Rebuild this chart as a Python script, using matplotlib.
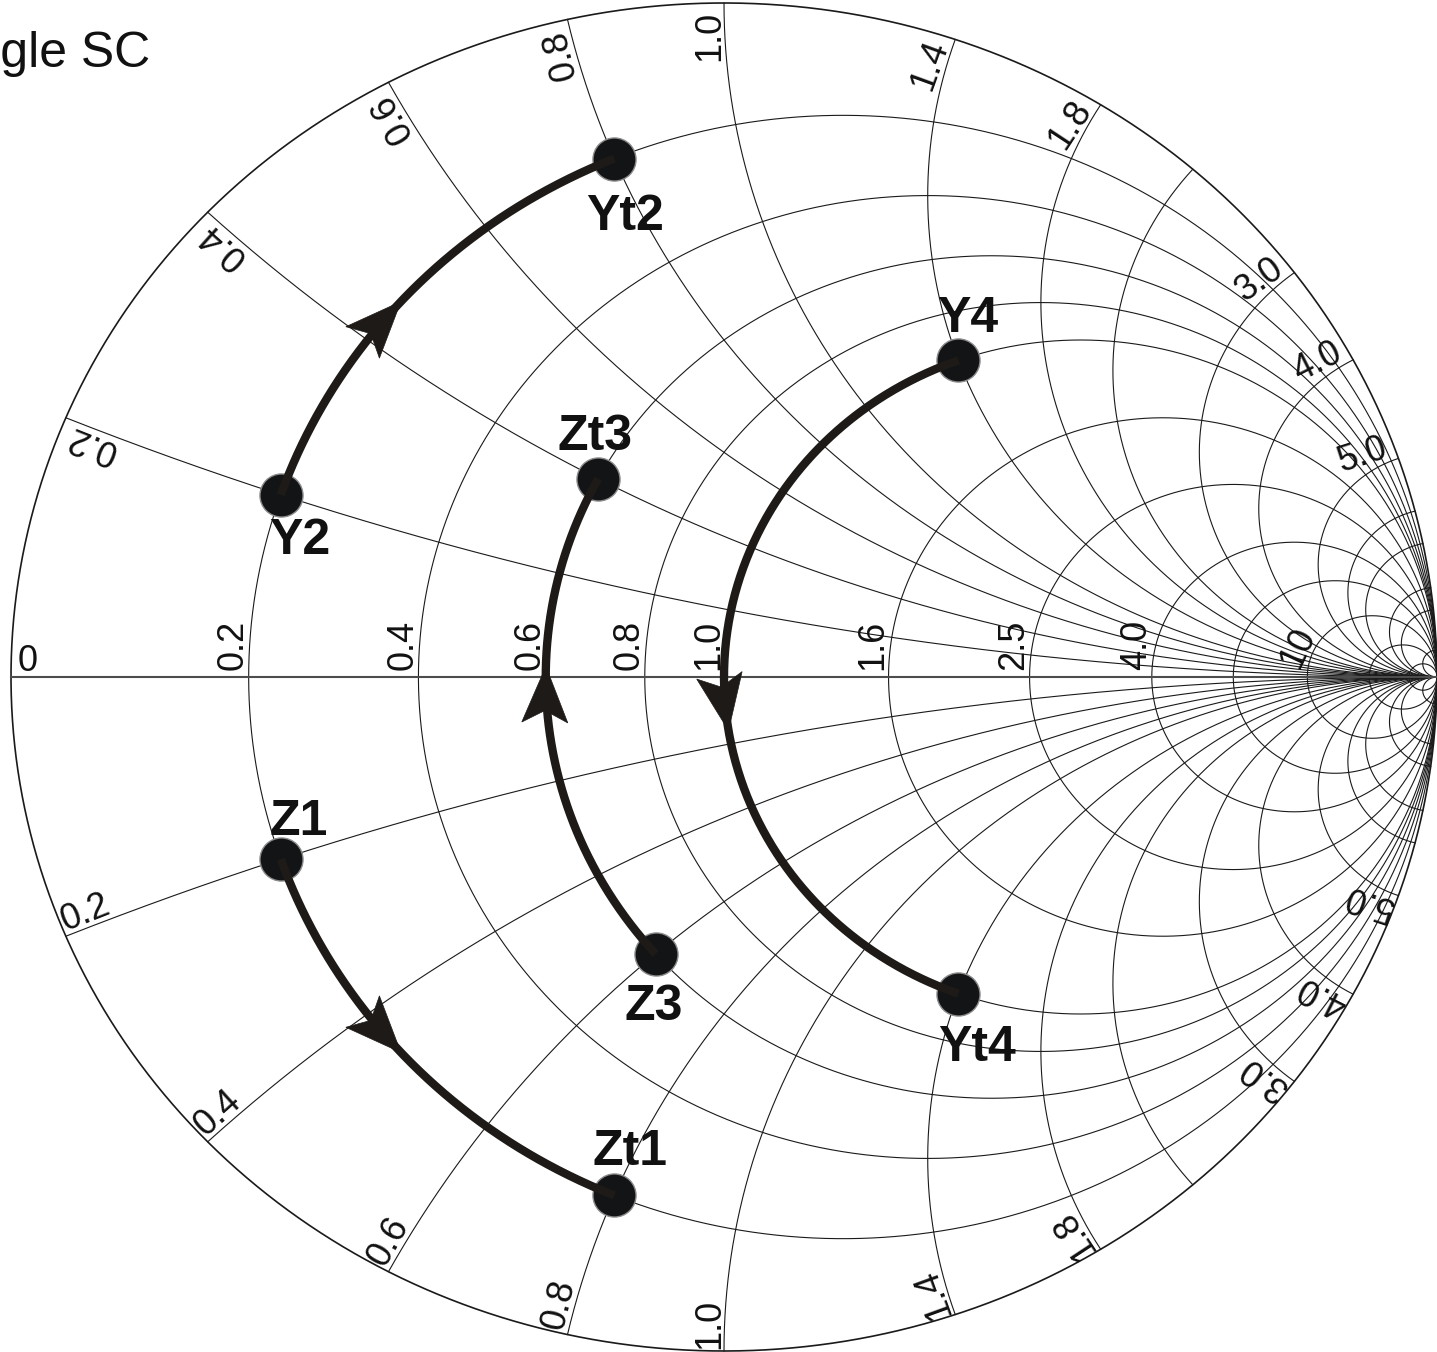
import numpy as np
import matplotlib
matplotlib.use('Agg')
import matplotlib.pyplot as plt
from matplotlib.patches import Polygon

plt.rcParams['font.family'] = ['Liberation Sans', 'DejaVu Sans']

# picture size and where the chart sits in it (pixels)
W_PX, H_PX, DPI = 1437, 1352, 100
CX, CY = 724, 677      # chart centre
RX, RY = 713, 674      # chart radius, horizontal / vertical

# grid of the Smith chart
resist_values = [0.2, 0.4, 0.6, 0.8, 1.0, 1.6, 2.5, 4.0, 6.0, 10, 20, 50]
resist_labels = ['0.2', '0.4', '0.6', '0.8', '1.0', '1.6', '2.5', '4.0', '', '10', '', '']
react_values = [0.2, 0.4, 0.6, 0.8, 1.0, 1.4, 1.8, 2.2, 3.0, 4.0, 6.0, 8.0, 10, 15, 20, 50]
react_labels = ['0.2', '0.4', '0.6', '0.8', '1.0', '1.4', '1.8', '', '3.0', '4.0', '5.0',
                '', '', '', '', '']

# matching paths (normalised impedance / admittance)
path_r = [0.2, 0.2, 0.6, 1.0]
path_x_start = [-0.2, 0.2, -0.6, 1.4]
path_x_end = [-0.8, 0.8, 0.4, -1.4]
path_x_arrow = [-0.46, 0.46, 0.02, -0.16]
start_names = ['Z1', 'Y2', 'Z3', 'Y4']
end_names = ['Zt1', 'Yt2', 'Zt3', 'Yt4']

# label offsets from the dots, in pixels (x right, y up)
name_offset = {
    'Z1': (18, 24), 'Zt1': (16, 30), 'Y2': (19, -59), 'Yt2': (11, -71),
    'Z3': (-2, -66), 'Zt3': (-3, 29), 'Y4': (9, 28), 'Yt4': (19, -67),
}

GRID = '#1a1a1a'
PATH = '#1e1a17'
DOT = '#131416'


def gamma(z):
    return (z - 1) / (z + 1)


fig = plt.figure(figsize=(W_PX / DPI, H_PX / DPI), dpi=DPI)
ax = fig.add_axes([0, 0, 1, 1])
ax.set_xlim(-CX / RX, (W_PX - CX) / RX)
ax.set_ylim(-(H_PX - CY) / RY, CY / RY)
ax.axis('off')

to_px = ax.transData.transform
to_data = ax.transData.inverted().transform

# outer rim (r = 0)
t = np.linspace(0, 2 * np.pi, 2000)
ax.plot(np.cos(t), np.sin(t), color=GRID, lw=1.2, zorder=2)

# constant resistance circles
t = np.linspace(-np.pi / 2, np.pi / 2, 4000)[1:-1]
for r in resist_values:
    g = gamma(r + 1j * np.tan(t))
    ax.plot(g.real, g.imag, color=GRID, lw=0.8, zorder=2)

# constant reactance arcs
s = np.linspace(0, np.pi / 2, 3000)[:-1]
for xv in react_values:
    for sign in (1, -1):
        g = gamma(np.tan(s) + 1j * sign * xv)
        ax.plot(g.real, g.imag, color=GRID, lw=0.8, zorder=2)

# real axis
ax.plot([-1, 1], [0, 0], color='#4d4d4d', lw=1.5, zorder=2)

LABEL_FS = 26

# resistance labels along the real axis
ax.annotate('0', (-1, 0), xytext=(7, 6), textcoords='offset pixels',
            ha='left', va='baseline', fontsize=LABEL_FS, color='#111111', zorder=3)
for r, lab in zip(resist_values, resist_labels):
    if not lab:
        continue
    xc = (r - 1) / (r + 1)
    if lab == '10':
        ax.annotate(lab, (xc, 0), xytext=(-9, 7), textcoords='offset pixels',
                    rotation=65, rotation_mode='anchor', ha='left', va='baseline',
                    fontsize=LABEL_FS, color='#111111', zorder=3)
    else:
        ax.annotate(lab, (xc, 0), xytext=(-6, 7), textcoords='offset pixels',
                    rotation=90, rotation_mode='anchor', ha='left', va='baseline',
                    fontsize=LABEL_FS, color='#111111', zorder=3)

# reactance labels at the rim
GAP = 5
for xv, lab in zip(react_values, react_labels):
    if not lab:
        continue
    for sign in (1, -1):
        g = gamma(1j * sign * xv)
        th = np.angle(g)
        rim = to_px((np.cos(th), np.sin(th)))
        d = np.array([RX * np.cos(th), RY * np.sin(th)])
        d /= np.hypot(*d)
        if sign > 0:
            rot = np.degrees(np.arctan2(d[1], d[0]))
            n = np.array([-d[1], d[0]])
            anchor = rim - d * 8 + n * GAP
            ha = 'right'
        else:
            rot = np.degrees(np.arctan2(-d[1], -d[0]))
            n = np.array([d[1], -d[0]])
            anchor = rim - d * 2 + n * GAP
            ha = 'left'
        pos = to_data(anchor)
        ax.text(pos[0], pos[1], lab, rotation=rot, rotation_mode='anchor',
                ha=ha, va='baseline', fontsize=LABEL_FS, color='#111111', zorder=3)

# matching paths with arrows, dots and names
ARROW_L, ARROW_W, ARROW_N = 56, 23, 12
for r, x0, x1, xa, n0, n1 in zip(path_r, path_x_start, path_x_end, path_x_arrow,
                                 start_names, end_names):
    xs = np.linspace(x0, x1, 400)
    g = gamma(r + 1j * xs)
    ax.plot(g.real, g.imag, color=PATH, lw=6, solid_capstyle='butt', zorder=5)

    step = np.sign(x1 - x0) * 0.01
    tip_g = gamma(r + 1j * xa)
    prev_g = gamma(r + 1j * (xa - step))
    tip = to_px((tip_g.real, tip_g.imag))
    prev = to_px((prev_g.real, prev_g.imag))
    tv = (tip - prev) / np.hypot(*(tip - prev))
    nv = np.array([-tv[1], tv[0]])
    pts_px = [tip,
              tip - ARROW_L * tv + ARROW_W * nv,
              tip - (ARROW_L - ARROW_N) * tv,
              tip - ARROW_L * tv - ARROW_W * nv]
    ax.add_patch(Polygon(to_data(np.array(pts_px)), closed=True,
                         facecolor=PATH, edgecolor=PATH, lw=0.5, zorder=6))

    for xv, name in ((x0, n0), (x1, n1)):
        p = gamma(r + 1j * xv)
        ax.plot(p.real, p.imag, 'o', ms=31, mfc=DOT, mec='#8a8a8a', mew=1.0, zorder=4)
        ax.annotate(name, (p.real, p.imag), xytext=name_offset[name],
                    textcoords='offset pixels', ha='center', va='baseline',
                    fontsize=36, fontweight='bold', color='#111111', zorder=7)

# title cut off at the left edge, as in the source picture
fig.text(150 / W_PX, 1 - 67 / H_PX, 'Single SC', ha='right', va='baseline',
         fontsize=36, color='#111111')

fig.savefig('out.png', dpi=DPI)
